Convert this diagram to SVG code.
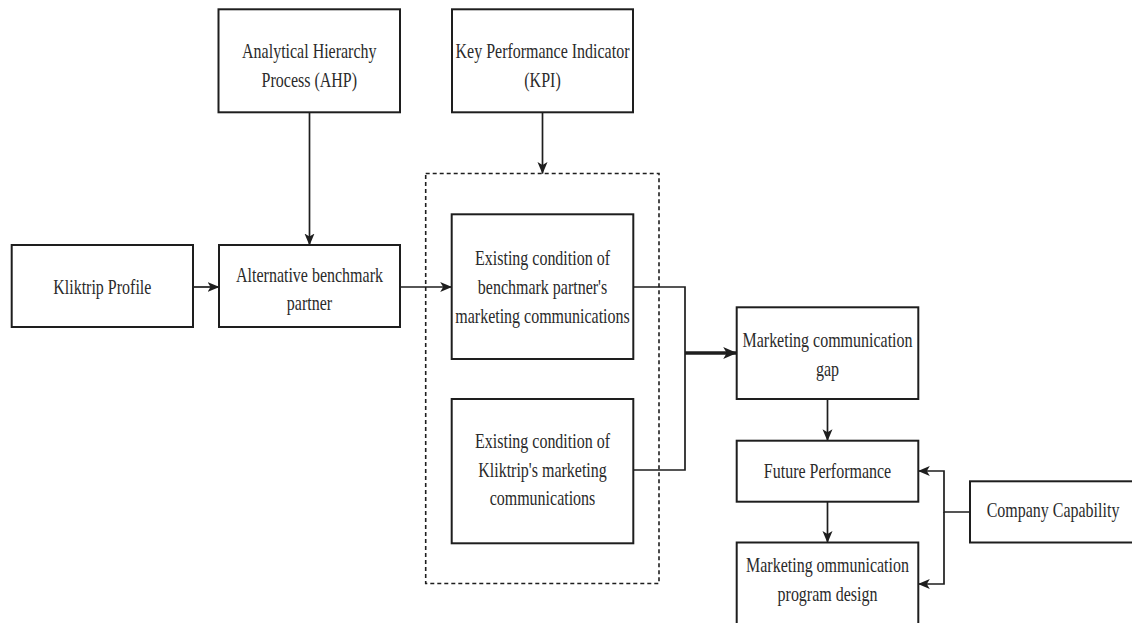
<svg xmlns="http://www.w3.org/2000/svg" width="1132" height="623" viewBox="0 0 1132 623">
  <style>
    .box { fill: #ffffff; stroke: #1e1e1e; stroke-width: 2; }
    .lbl { font-family: "Liberation Serif", "Times New Roman", serif; font-size: 20.5px; fill: #2a2a2a; text-anchor: middle; }
    .con { fill: none; stroke: #1e1e1e; stroke-width: 1.7; }
    .thick { fill: none; stroke: #1e1e1e; stroke-width: 3.4; }
    .dash { fill: none; stroke: #1e1e1e; stroke-width: 1.6; stroke-dasharray: 4 3; }
  </style>
  <defs>
    <marker id="arr" markerUnits="userSpaceOnUse" markerWidth="12" markerHeight="12" viewBox="0 0 12 12" refX="11.5" refY="6" orient="auto">
      <path d="M0,1 L12,6 L0,11 L3,6 Z" fill="#1e1e1e"/>
    </marker>
    <marker id="arrBig" markerUnits="userSpaceOnUse" markerWidth="14" markerHeight="14" viewBox="0 0 14 14" refX="13.5" refY="7" orient="auto">
      <path d="M0,1 L14,7 L0,13 L3.5,7 Z" fill="#1e1e1e"/>
    </marker>
  </defs>
  <rect width="1132" height="623" fill="#ffffff"/>

  <g id="group-dashed">
    <rect class="dash" x="425.7" y="173.5" width="233.3" height="410"/>
  </g>

  <g id="connectors">
    <path class="con" d="M193,287 H219" marker-end="url(#arr)"/>
    <path class="con" d="M309.5,112.3 V245" marker-end="url(#arr)"/>
    <path class="con" d="M542.5,112.3 V173.5" marker-end="url(#arr)"/>
    <path class="con" d="M400,287 H451.7" marker-end="url(#arr)"/>
    <path class="con" d="M633.3,287 H685 V470 H633.3"/>
    <path class="thick" d="M685,353 H736.7" marker-end="url(#arrBig)"/>
    <path class="con" d="M827.5,399 V440.7" marker-end="url(#arr)"/>
    <path class="con" d="M827.5,501.7 V542.5" marker-end="url(#arr)"/>
    <path class="con" d="M970,512 H944 V471 H918.3" marker-end="url(#arr)"/>
    <path class="con" d="M944,512 V584 H918.3" marker-end="url(#arr)"/>
  </g>

  <g id="node-ahp">
    <rect class="box" x="218.5" y="9.3" width="181.5" height="103"/>
    <text class="lbl" transform="translate(309.3,58) scale(0.78,1)">Analytical Hierarchy</text>
    <text class="lbl" transform="translate(309.3,87) scale(0.78,1)">Process (AHP)</text>
  </g>

  <g id="node-kpi">
    <rect class="box" x="452" y="9.3" width="181" height="103"/>
    <text class="lbl" transform="translate(542.5,58) scale(0.78,1)">Key Performance Indicator</text>
    <text class="lbl" transform="translate(542.5,87) scale(0.78,1)">(KPI)</text>
  </g>

  <g id="node-kliktrip">
    <rect class="box" x="11.7" y="245" width="181.3" height="82"/>
    <text class="lbl" transform="translate(102.3,294) scale(0.78,1)">Kliktrip Profile</text>
  </g>

  <g id="node-alternative">
    <rect class="box" x="219" y="245" width="181" height="82"/>
    <text class="lbl" transform="translate(309.5,282) scale(0.78,1)">Alternative benchmark</text>
    <text class="lbl" transform="translate(309.5,310) scale(0.78,1)">partner</text>
  </g>

  <g id="node-existing-benchmark">
    <rect class="box" x="451.7" y="214.3" width="181.6" height="144.7"/>
    <text class="lbl" transform="translate(542.5,265) scale(0.78,1)">Existing condition of</text>
    <text class="lbl" transform="translate(542.5,294) scale(0.78,1)">benchmark partner's</text>
    <text class="lbl" transform="translate(542.5,323) scale(0.78,1)">marketing communications</text>
  </g>

  <g id="node-existing-kliktrip">
    <rect class="box" x="451.7" y="399" width="181.6" height="144.3"/>
    <text class="lbl" transform="translate(542.5,448) scale(0.78,1)">Existing condition of</text>
    <text class="lbl" transform="translate(542.5,476.5) scale(0.78,1)">Kliktrip's marketing</text>
    <text class="lbl" transform="translate(542.5,505) scale(0.78,1)">communications</text>
  </g>

  <g id="node-gap">
    <rect class="box" x="736.7" y="307.3" width="181.6" height="91.7"/>
    <text class="lbl" transform="translate(827.5,347) scale(0.78,1)">Marketing communication</text>
    <text class="lbl" transform="translate(827.5,376) scale(0.78,1)">gap</text>
  </g>

  <g id="node-future">
    <rect class="box" x="736.7" y="440.7" width="181.6" height="61"/>
    <text class="lbl" transform="translate(827.5,478) scale(0.78,1)">Future Performance</text>
  </g>

  <g id="node-design">
    <rect class="box" x="736.7" y="542.5" width="181.6" height="90"/>
    <text class="lbl" transform="translate(827.5,572) scale(0.78,1)">Marketing ommunication</text>
    <text class="lbl" transform="translate(827.5,601) scale(0.78,1)">program design</text>
  </g>

  <g id="node-capability">
    <rect class="box" x="970" y="481.3" width="175" height="61.2"/>
    <text class="lbl" transform="translate(1053,517) scale(0.78,1)">Company Capability</text>
  </g>
</svg>
